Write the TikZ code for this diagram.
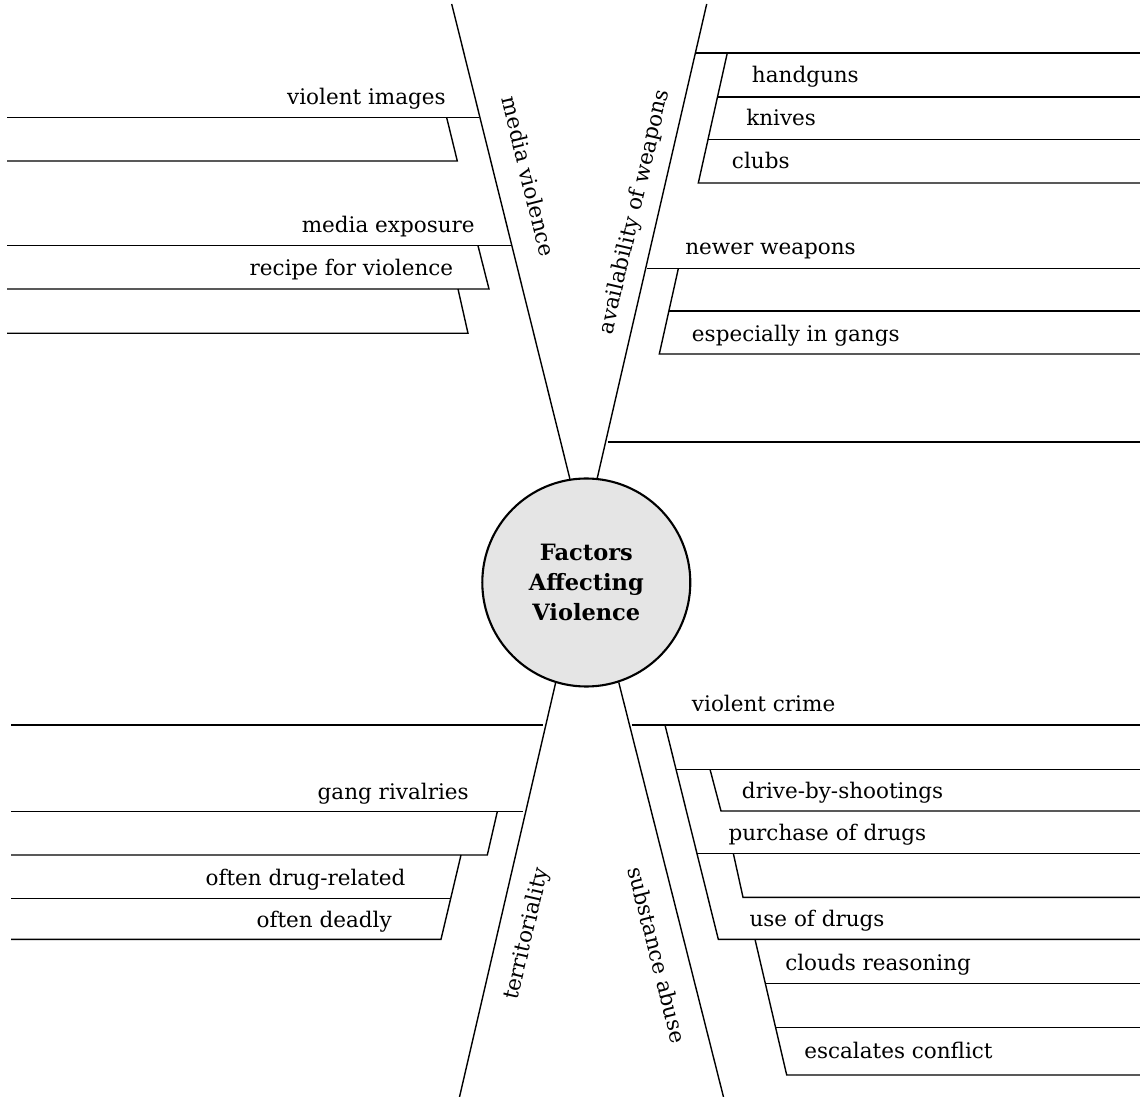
\documentclass[tikz,border=0pt]{standalone}
\usepackage{fontspec}
\setmainfont{DejaVu Serif}
\tikzstyle{topic} = [circle, minimum size=52mm, inner sep=0pt, draw=black, line width=1.5pt, fill=black!10, align=center, font=\fontsize{16}{21.5}\selectfont\bfseries]
\tikzstyle{leg} = [line width=1pt]
\tikzstyle{twig} = [line width=1pt]
\tikzstyle{lefttext} = [anchor=base east, inner sep=0pt, font=\fontsize{15.3}{18}\selectfont]
\tikzstyle{righttext} = [anchor=base west, inner sep=0pt, font=\fontsize{15.3}{18}\selectfont]
\tikzstyle{legtext} = [sloped, inner sep=0pt, font=\fontsize{15.3}{18}\selectfont]

\begin{document}
\begin{tikzpicture}[x=0.25mm, y=-0.25mm]
\useasboundingbox (0,0) rectangle (1140,1097);
\node (factors) [topic] at (586.3,582.5) {Factors\\Affecting\\Violence};

\coordinate (media_end) at (451.7,4);
\coordinate (weapons_end) at (706.7,4);
\coordinate (territory_end) at (459.5,1097);
\coordinate (substance_end) at (723.5,1097);

\draw [leg] (factors.99) -- node[legtext, pos=0.62, above=6mm] {media violence} (media_end);
\draw [leg] (factors.84) -- node[legtext, pos=0.55, above=3mm] {availability of weapons} (weapons_end);
\draw [leg] (factors.253) -- node[legtext, pos=0.59, below=4.5mm] {territoriality} (territory_end);
\draw [leg] (factors.-72) -- node[legtext, pos=0.64, below=5mm] {substance abuse} (substance_end);

\draw [twig] (7,117.7) -- (479,117.7);
\draw [twig] (446.7,117.7) -- (457.3,161) -- (7,161);
\draw [twig] (7,245.7) -- (511.5,245.7);
\draw [twig] (478,245.7) -- (489,289) -- (7,289);
\draw [twig] (458,289) -- (468,333.3) -- (7,333.3);

\draw [twig] (695,53) -- (1140,53);
\draw [twig] (727.3,53) -- (698.3,183) -- (1140,183);
\draw [twig] (717.5,97) -- (1140,97);
\draw [twig] (708,139.3) -- (1140,139.3);
\draw [twig] (646.8,268.7) -- (1140,268.7);
\draw [twig] (678.3,268.7) -- (659.3,354) -- (1140,354);
\draw [twig] (669,311) -- (1140,311);
\draw [twig] (607.7,442) -- (1140,442);

\draw [twig] (11,725) -- (543.3,725);
\draw [twig] (11,811.7) -- (523.3,811.7);
\draw [twig] (497.3,811.7) -- (487.3,855) -- (11,855);
\draw [twig] (461,855) -- (441,939.3) -- (11,939.3);
\draw [twig] (450.7,898.3) -- (11,898.3);

\draw [twig] (631.7,725) -- (1140,725);
\draw [twig] (665,725) -- (718.3,939.3) -- (1140,939.3);
\draw [twig] (676.1,769.3) -- (1140,769.3);
\draw [twig] (710,769.3) -- (721,811) -- (1140,811);
\draw [twig] (697.2,853.3) -- (1140,853.3);
\draw [twig] (733.3,853.3) -- (743,897.3) -- (1140,897.3);
\draw [twig] (755,939.3) -- (786.7,1075) -- (1140,1075);
\draw [twig] (765.3,983.3) -- (1140,983.3);
\draw [twig] (775.7,1027.7) -- (1140,1027.7);

\node (images) [lefttext] at (446,105) {violent images};
\node (exposure) [lefttext] at (475,233) {media exposure};
\node (recipe) [lefttext] at (453.5,276) {recipe for violence};
\node (rivalries) [lefttext] at (469,799) {gang rivalries};
\node (drugrelated) [lefttext] at (405.7,885) {often drug-related};
\node (deadly) [lefttext] at (392,927) {often deadly};

\node (handguns) [righttext] at (751.7,83) {handguns};
\node (knives) [righttext] at (746,126) {knives};
\node (clubs) [righttext] at (731.7,168.3) {clubs};
\node (newer) [righttext] at (685,255) {newer weapons};
\node (gangs) [righttext] at (691.7,341.7) {especially in gangs};
\node (crime) [righttext] at (691.7,712) {violent crime};
\node (driveby) [righttext] at (741.7,798) {drive-by-shootings};
\node (purchase) [righttext] at (728.3,840) {purchase of drugs};
\node (use) [righttext] at (749.3,926.5) {use of drugs};
\node (clouds) [righttext] at (785,970) {clouds reasoning};
\node (escalates) [righttext] at (804,1058) {escalates conflict};
\end{tikzpicture}
\end{document}
